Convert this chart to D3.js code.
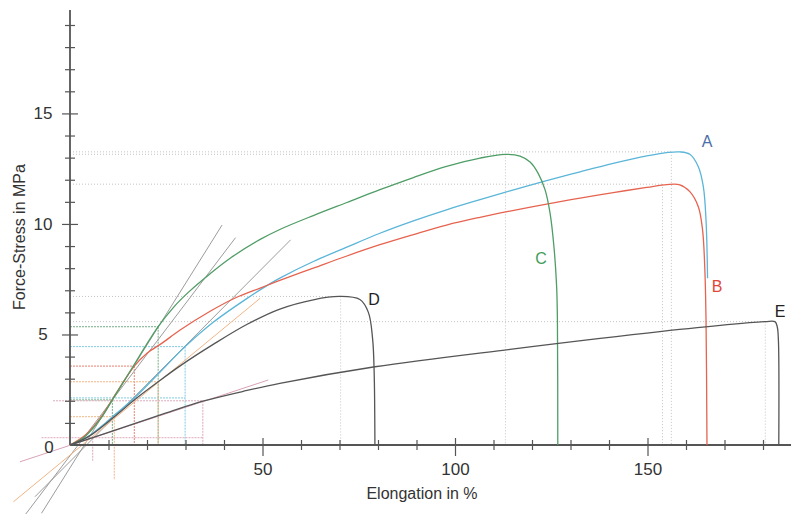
<!DOCTYPE html>
<meta charset="utf-8">
<script src="https://d3js.org/d3.v7.min.js"></script>
<style>
body { margin: 0; background: #fff; }
text { font-family: "Liberation Sans", Arial, sans-serif; }
</style>
<div id="chart"></div>
<script>

// tensile curves, elongation in % / stress in MPa
const curveA = [[0,0],[4,0.3],[8,0.82],[12,1.42],[16.9,2.16],[22,3.05],[29.9,4.45],[37.2,5.55],[45.9,6.62],[52,7.3],
  [54.5,7.55],[63.2,8.3],[71.9,8.95],[80.5,9.58],[89.2,10.14],[97.8,10.64],[106.5,11.1],[114.3,11.5],[123.8,11.96],
  [132.5,12.36],[141.1,12.74],[149.8,13.08],[155,13.23],[158.4,13.26],[161,13.15],[163.2,12.59],[164.5,11.69],[165.2,10.18],[165.6,7.54]];
const curveB = [[0,0],[4,0.45],[8,1.25],[12,2.35],[16.7,3.57],[20,4.15],[24,4.62],[28.6,5.2],[36.4,6.05],[42.9,6.65],
  [49.4,7.1],[52,7.28],[54.5,7.45],[63.2,8.0],[71.9,8.55],[80.5,9.06],[89.2,9.52],[97.8,9.95],[106.5,10.3],[114.3,10.58],
  [123.8,10.9],[132.5,11.17],[141.1,11.42],[149.8,11.65],[155,11.78],[158.4,11.77],[161,11.46],[163.2,10.78],[164.3,9.73],
  [164.9,7.92],[165.2,5.66],[165.45,0]];
const curveC = [[0,0],[4,0.4],[8,1.2],[11,2.04],[16,3.45],[22.9,5.35],[27,6.25],[31,6.95],[36.4,7.75],[41.6,8.45],
  [49.4,9.3],[54.5,9.75],[63.2,10.38],[71.9,10.97],[80.5,11.55],[89.2,12.1],[97.8,12.6],[106.5,12.98],[113,13.15],
  [116.9,13.07],[119.5,12.8],[121.6,12.29],[123.4,11.54],[124.7,10.48],[125.7,8.97],[126.4,7.16],[126.6,5.66],[126.7,0]];
const curveD = [[0,0],[5,0.4],[11.5,1.28],[17,2.08],[22.9,2.86],[28.6,3.58],[37.2,4.55],[45.9,5.45],[54.5,6.15],
  [63.2,6.57],[70.1,6.72],[75.3,6.58],[77.5,6.0],[78.6,4.8],[79,3.3],[79.2,0]];
const curveE = [[0,0],[5.9,0.33],[15,0.87],[25,1.45],[34.5,1.98],[45,2.43],[54.5,2.79],[79.2,3.54],[114.3,4.33],
  [153.2,5.13],[180.5,5.58],[183.1,5.58],[183.7,5.35],[184,4.75],[184.1,0]];

const names = ["A", "B", "C", "D", "E"];
const curves = [curveA, curveB, curveC, curveD, curveE];

// maximum force of each specimen
const peakX = [156.2, 153.9, 113.1, 70.3, 180.6];
const peakY = [13.26, 11.8, 13.15, 6.72, 5.58];

// secant / tangent lines of the initial slope
const tangentA = [[-9.1, -2.34], [57.3, 9.28]];
const tangentB = [[-11.7, -3.17], [43.0, 9.38]];
const tangentC = [[-7.4, -3.09], [39.5, 9.95]];
const tangentD = [[-14.7, -2.57], [49.4, 6.64]];
const tangentE = [[-13.0, -0.76], [51.5, 2.94]];

// read-off lines at the tangent points
const guidesA = [[[0, 4.45], [29.9, 4.45]], [[29.9, 4.45], [29.9, 0]], [[0, 2.13], [29.9, 2.13]]];
const guidesB = [[[0, 3.57], [16.7, 3.57]], [[16.7, 3.57], [16.7, 0]]];
const guidesC = [[[0, 5.35], [22.9, 5.35]], [[22.9, 5.35], [22.9, 0]], [[0, 2.04], [11.0, 2.04]], [[11.0, 2.04], [11.0, 0]]];
const guidesD = [[[0, 2.86], [22.9, 2.86]], [[22.9, 2.86], [22.9, 0]], [[0, 1.28], [11.5, 1.28]], [[11.5, 1.28], [11.5, -1.58]]];
const guidesE = [[[-4.4, 2.0], [34.5, 2.0]], [[34.5, 2.0], [34.5, 0]], [[-7.4, 0.33], [34.5, 0.33]], [[5.9, 0.33], [5.9, -0.71]]];

const xTicks = d3.range(10, 190, 10);
const yTicks = d3.range(1, 20, 1);

const curveColor = ["#5ab5d8", "#e6634f", "#4f9d66", "#555", "#555"];
const labelColor = ["#4c6ea8", "#e0473a", "#3f9d5a", "#222", "#222"];
const tangentColor = ["#9c9c9c", "#9c9c9c", "#9c9c9c", "#f2b585", "#d9a3b4"];
const guideColor = ["#82cbe2", "#e48070", "#72ad86", "#f2b585", "#dcaab9"];
const labelPos = [[707, 147], [717, 292], [541, 264], [374, 305], [780, 317]];

const width = 791, height = 514;

const x = d3.scaleLinear().domain([0, 180]).range([70, 763]);
const y = d3.scaleLinear().domain([0, 19]).range([445, 25]);

const svg = d3.select("#chart")
  .append("svg")
    .attr("width", width)
    .attr("height", height);

const seg = d3.line().x(d => x(d[0])).y(d => y(d[1]));

// dotted lines to the maximum
peakX.forEach((px, i) => {
  svg.append("path")
    .attr("d", seg([[0, peakY[i]], [px, peakY[i]]]))
    .attr("stroke", "#c4c4c4").attr("stroke-width", 1)
    .attr("stroke-dasharray", "1,2").attr("fill", "none");
  svg.append("path")
    .attr("d", seg([[px, peakY[i]], [px, 0]]))
    .attr("stroke", "#c4c4c4").attr("stroke-width", 1)
    .attr("stroke-dasharray", "1,2").attr("fill", "none");
});

// read-off lines
[guidesA, guidesB, guidesC, guidesD, guidesE].forEach((g, i) => {
  svg.selectAll(null)
    .data(g)
    .join("path")
      .attr("d", seg)
      .attr("fill", "none")
      .attr("stroke", guideColor[i])
      .attr("stroke-width", 1)
      .attr("stroke-dasharray", "2,1");
});

// tangents
[tangentA, tangentB, tangentC, tangentD, tangentE].forEach((t, i) => {
  svg.append("path")
    .attr("d", seg(t))
    .attr("fill", "none")
    .attr("stroke", tangentColor[i])
    .attr("stroke-width", 1);
});

// axes
const xAxis = d3.axisBottom(x)
  .tickValues(xTicks)
  .tickSizeOuter(0)
  .tickFormat(d => d % 50 === 0 ? d : "");
const gx = svg.append("g")
  .attr("transform", `translate(0,${y(0)})`)
  .call(xAxis);
gx.select(".domain").remove();
gx.selectAll(".tick line")
  .attr("y1", d => d % 50 === 0 ? -7 : -5)
  .attr("y2", d => d % 50 === 0 ? 11 : 5)
  .attr("stroke", "#555").attr("stroke-width", 1.2);
gx.selectAll(".tick text")
  .attr("y", 30).attr("dy", null)
  .attr("font-size", 17).attr("fill", "#333");
gx.append("line")
  .attr("x1", x(0)).attr("x2", width)
  .attr("stroke", "#555").attr("stroke-width", 1.8);

const yAxis = d3.axisLeft(y)
  .tickValues(yTicks)
  .tickSizeOuter(0)
  .tickFormat(d => d % 5 === 0 ? d : "");
const gy = svg.append("g")
  .attr("transform", `translate(${x(0)},0)`)
  .call(yAxis);
gy.select(".domain").remove();
gy.selectAll(".tick line")
  .attr("x1", d => d % 5 === 0 ? -8 : -5)
  .attr("x2", d => d % 5 === 0 ? 8 : 5)
  .attr("stroke", "#555").attr("stroke-width", 1.2);
gy.selectAll(".tick text")
  .attr("x", -27).attr("text-anchor", "middle")
  .attr("font-size", 17).attr("fill", "#333");
gy.append("line")
  .attr("y1", y(0)).attr("y2", 10)
  .attr("stroke", "#555").attr("stroke-width", 1.8);

svg.append("text")
  .attr("x", x(0) - 21).attr("y", y(0) + 8)
  .attr("text-anchor", "middle")
  .attr("font-size", 17).attr("fill", "#333")
  .text("0");

svg.append("text")
  .attr("x", 422).attr("y", 499)
  .attr("text-anchor", "middle")
  .attr("font-size", 16).attr("fill", "#333")
  .text("Elongation in %");

svg.append("text")
  .attr("transform", "translate(25,237) rotate(-90)")
  .attr("text-anchor", "middle")
  .attr("font-size", 16).attr("fill", "#333")
  .text("Force-Stress in MPa");

// curves
const line = d3.line()
  .x(d => x(d[0]))
  .y(d => y(d[1]))
  .curve(d3.curveCatmullRom.alpha(0.5));

svg.selectAll(".curve")
  .data(curves)
  .join("path")
    .attr("class", "curve")
    .attr("d", line)
    .attr("fill", "none")
    .attr("stroke", (d, i) => curveColor[i])
    .attr("stroke-width", 1.3);

svg.selectAll(".clabel")
  .data(names)
  .join("text")
    .attr("class", "clabel")
    .attr("x", (d, i) => labelPos[i][0])
    .attr("y", (d, i) => labelPos[i][1])
    .attr("text-anchor", "middle")
    .attr("font-size", 16)
    .attr("fill", (d, i) => labelColor[i])
    .text(d => d);

</script>
